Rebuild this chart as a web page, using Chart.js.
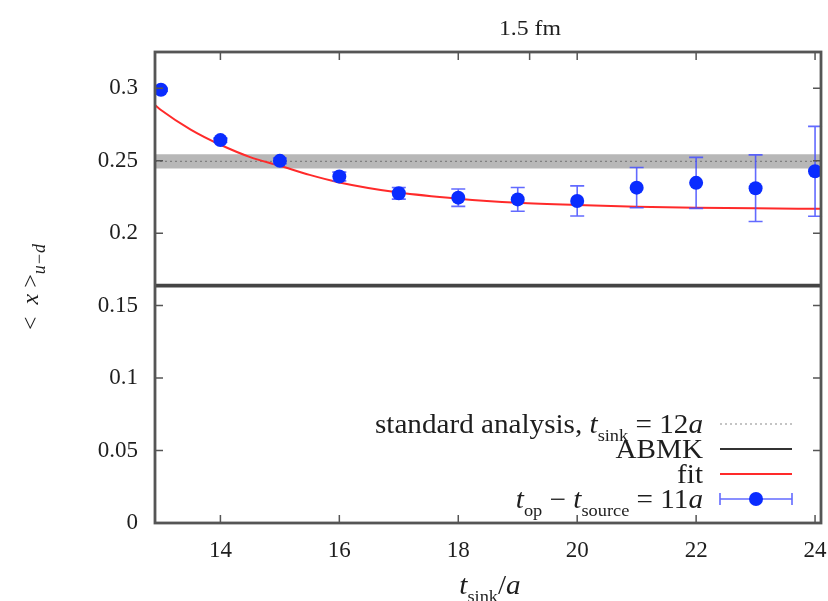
<!DOCTYPE html>
<html>
<head>
<meta charset="utf-8">
<script src="https://cdn.jsdelivr.net/npm/chart.js@4/dist/chart.umd.min.js"></script>
<style>
  html, body { margin: 0; padding: 0; background: #ffffff; }
  #wrap { width: 828px; height: 601px; }
</style>
</head>
<body>
<div id="wrap"><canvas id="c" width="828" height="601"></canvas></div>
<script>
// ---- data ----
const tSink      = [13, 14, 15, 16, 17, 18, 19, 20, 21, 22, 23, 24];
const xMoment    = [0.2990, 0.2642, 0.2499, 0.2391, 0.2275, 0.2245, 0.2233, 0.2222, 0.2314, 0.2347, 0.2310, 0.2427];
const xMomentErr = [0.0010, 0.0015, 0.0020, 0.0030, 0.0040, 0.0060, 0.0082, 0.0104, 0.0139, 0.0176, 0.0230, 0.0310];

const fitX = [12.9, 13, 13.5, 14, 14.5, 15, 15.5, 16, 17, 18, 19, 20, 21, 22, 23, 24.1];
const fitY = [0.2884, 0.2850, 0.2715, 0.2610, 0.2525, 0.2465, 0.2402, 0.2350, 0.2280, 0.2238, 0.2210, 0.2194, 0.2183, 0.2176, 0.2171, 0.2168];

const standardCentral = 0.2495;
const standardLow     = 0.2446;
const standardHigh    = 0.2545;
const abmkValue       = 0.1638;

const xRange   = [12.9, 24.1];
const yRange   = [0, 0.325];
const xTicks   = [14, 16, 18, 20, 22, 24];
const xTopTicks = [14, 16, 18, 19.2, 20, 22, 24];
const yTicks   = [0, 0.05, 0.1, 0.15, 0.2, 0.25, 0.3];
const yTickLabels = ['0', '0.05', '0.1', '0.15', '0.2', '0.25', '0.3'];

const SERIF = '"Liberation Serif", "DejaVu Serif", serif';
const TEXT = '#1e1e1e';
const FRAME = '#555555';
const BLUE = '#0a2cff';
const ERRBLUE = 'rgba(70,80,255,0.85)';
const RED = '#ff2a2a';

// ---- helpers for rich text ----
function segFont(s, size) {
  const sz = s.sub ? Math.round(size * (s.subScale || 0.62)) : size;
  return (s.italic ? 'italic ' : '') + sz + 'px ' + SERIF;
}
function segWidth(ctx, segs, size) {
  let w = 0;
  segs.forEach(s => { ctx.font = segFont(s, size); w += ctx.measureText(s.t).width; });
  return w;
}
function drawSegs(ctx, segs, x, y, size) {
  let cx = x;
  segs.forEach(s => {
    ctx.font = segFont(s, size);
    ctx.fillText(s.t, cx, y + (s.sub ? size * 0.28 : 0));
    cx += ctx.measureText(s.t).width;
  });
}

const framePlugin = {
  id: 'framePlugin',
  beforeDatasetDraw(chart, args) {
    if (args.index !== 5) return;
    const ctx = chart.ctx, xs = chart.scales.x, ys = chart.scales.y;
    ctx.save();
    ctx.strokeStyle = ERRBLUE;
    ctx.lineWidth = 1.6;
    tSink.forEach((t, i) => {
      const px = xs.getPixelForValue(t);
      const lo = ys.getPixelForValue(xMoment[i] - xMomentErr[i]);
      const hi = ys.getPixelForValue(xMoment[i] + xMomentErr[i]);
      ctx.beginPath();
      ctx.moveTo(px, lo); ctx.lineTo(px, hi);
      ctx.moveTo(px - 7, lo); ctx.lineTo(px + 7, lo);
      ctx.moveTo(px - 7, hi); ctx.lineTo(px + 7, hi);
      ctx.stroke();
    });
    ctx.restore();
  },
  afterDraw(chart) {
    const ctx = chart.ctx, a = chart.chartArea, xs = chart.scales.x, ys = chart.scales.y;
    ctx.save();
    // inward ticks
    ctx.strokeStyle = FRAME;
    ctx.lineWidth = 1.5;
    ctx.beginPath();
    xTicks.forEach(v => { const p = xs.getPixelForValue(v); ctx.moveTo(p, a.bottom); ctx.lineTo(p, a.bottom - 8); });
    xTopTicks.forEach(v => { const p = xs.getPixelForValue(v); ctx.moveTo(p, a.top); ctx.lineTo(p, a.top + 8); });
    yTicks.forEach(v => {
      const p = ys.getPixelForValue(v);
      ctx.moveTo(a.left, p); ctx.lineTo(a.left + 8, p);
      ctx.moveTo(a.right, p); ctx.lineTo(a.right - 8, p);
    });
    ctx.stroke();
    // frame
    ctx.lineWidth = 2.8;
    ctx.strokeRect(a.left, a.top, a.right - a.left, a.bottom - a.top);

    // title
    ctx.fillStyle = TEXT;
    ctx.textBaseline = 'alphabetic';
    ctx.textAlign = 'center';
    ctx.save();
    ctx.translate(530, 35);
    ctx.scale(1.08, 1);
    ctx.font = '22px ' + SERIF;
    ctx.fillText('1.5 fm', 0, 0);
    ctx.restore();

    // x axis title
    ctx.textAlign = 'left';
    const xl = [{t: 't', italic: true}, {t: 'sink', sub: true}, {t: '/', italic: false}, {t: 'a', italic: true}];
    ctx.save();
    ctx.translate(490, 594);
    ctx.scale(1.08, 1);
    const xw = segWidth(ctx, xl, 27);
    drawSegs(ctx, xl, -xw / 2, 0, 27);
    ctx.restore();

    // y axis title (rotated)
    ctx.save();
    ctx.translate(38, 287);
    ctx.rotate(-Math.PI / 2);
    const yl = [{t: '<  '}, {t: 'x', italic: true}, {t: ' >'}, {t: 'u\u2212d', sub: true, italic: true, subScale: 0.75}];
    const yw = segWidth(ctx, yl, 24);
    drawSegs(ctx, yl, -yw / 2, 0, 24);
    ctx.restore();

    // legend
    const rows = [
      [{t: 'standard analysis, '}, {t: 't', italic: true}, {t: 'sink', sub: true}, {t: ' = 12'}, {t: 'a', italic: true}],
      [{t: 'ABMK'}],
      [{t: 'fit'}],
      [{t: 't', italic: true}, {t: 'op', sub: true}, {t: ' \u2212 '}, {t: 't', italic: true}, {t: 'source', sub: true}, {t: ' = 11'}, {t: 'a', italic: true}]
    ];
    const rowY = [424, 449, 474, 499];
    const textRight = 703, s0 = 720, s1 = 792;
    rows.forEach((r, i) => {
      ctx.save();
      ctx.translate(textRight, rowY[i] + 9);
      ctx.scale(1.08, 1);
      const w = segWidth(ctx, r, 27);
      ctx.fillStyle = TEXT;
      drawSegs(ctx, r, -w, 0, 27);
      ctx.restore();
    });
    // samples
    ctx.setLineDash([2, 3]);
    ctx.strokeStyle = '#8a8a8a'; ctx.lineWidth = 1.2;
    ctx.beginPath(); ctx.moveTo(s0, rowY[0]); ctx.lineTo(s1, rowY[0]); ctx.stroke();
    ctx.setLineDash([]);
    ctx.strokeStyle = '#333333'; ctx.lineWidth = 2;
    ctx.beginPath(); ctx.moveTo(s0, rowY[1]); ctx.lineTo(s1, rowY[1]); ctx.stroke();
    ctx.strokeStyle = RED; ctx.lineWidth = 2;
    ctx.beginPath(); ctx.moveTo(s0, rowY[2]); ctx.lineTo(s1, rowY[2]); ctx.stroke();
    ctx.strokeStyle = ERRBLUE; ctx.lineWidth = 1.6;
    ctx.beginPath();
    ctx.moveTo(s0, rowY[3]); ctx.lineTo(s1, rowY[3]);
    ctx.moveTo(s0, rowY[3] - 6); ctx.lineTo(s0, rowY[3] + 6);
    ctx.moveTo(s1, rowY[3] - 6); ctx.lineTo(s1, rowY[3] + 6);
    ctx.stroke();
    ctx.fillStyle = BLUE;
    ctx.beginPath(); ctx.arc((s0 + s1) / 2, rowY[3], 7, 0, Math.PI * 2); ctx.fill();
    ctx.restore();
  }
};

const ctx = document.getElementById('c').getContext('2d');
new Chart(ctx, {
  type: 'scatter',
  data: {
    datasets: [
      { // 0: band (standard analysis error)
        data: xRange.map(x => ({x, y: standardHigh})),
        showLine: true, borderWidth: 0, borderColor: 'rgba(0,0,0,0)', pointRadius: 0,
        backgroundColor: 'rgba(170,170,170,0.85)', fill: {value: standardLow}, order: 6
      },
      { // 1: standard analysis central (dotted)
        data: xRange.map(x => ({x, y: standardCentral})),
        showLine: true, borderColor: '#808080', borderWidth: 1.4, borderDash: [2, 3], pointRadius: 0, fill: false, order: 5
      },
      { // 2: ABMK
        data: xRange.map(x => ({x, y: abmkValue})),
        showLine: true, borderColor: '#444444', borderWidth: 3.8, pointRadius: 0, fill: false, order: 4
      },
      { // 3: fit
        data: fitX.map((x, i) => ({x, y: fitY[i]})),
        showLine: true, borderColor: RED, borderWidth: 2, pointRadius: 0, fill: false,
        cubicInterpolationMode: 'monotone', order: 3
      },
      { // 4: placeholder (unused)
        data: [], order: 2
      },
      { // 5: data points
        data: tSink.map((x, i) => ({x, y: xMoment[i]})),
        showLine: false, pointRadius: 7, pointBackgroundColor: BLUE, pointBorderColor: BLUE, pointBorderWidth: 0, order: 0
      }
    ]
  },
  options: {
    responsive: false,
    animation: false,
    devicePixelRatio: 1,
    layout: { padding: { left: 0, right: 6, top: 52, bottom: 0 } },
    plugins: { legend: { display: false }, tooltip: { enabled: false }, title: { display: false } },
    scales: {
      x: {
        type: 'linear', min: xRange[0], max: xRange[1],
        grid: { display: false }, border: { display: false },
        afterBuildTicks: s => { s.ticks = xTicks.map(v => ({value: v})); },
        afterFit: s => { s.height = 78; s.paddingLeft = 0; s.paddingRight = 0; },
        ticks: { padding: 6, color: TEXT, font: { family: SERIF, size: 23 }, maxRotation: 0,
                 autoSkip: false, callback: v => String(v) }
      },
      y: {
        type: 'linear', min: yRange[0], max: yRange[1],
        grid: { display: false }, border: { display: false },
        afterBuildTicks: s => { s.ticks = yTicks.map(v => ({value: v})); },
        afterFit: s => { s.width = 155; s.paddingTop = 0; s.paddingBottom = 0; },
        ticks: { padding: 9, color: TEXT, font: { family: SERIF, size: 23 }, autoSkip: false,
                 callback: (v, i) => yTickLabels[i] }
      }
    }
  },
  plugins: [framePlugin]
});
</script>
</body>
</html>
